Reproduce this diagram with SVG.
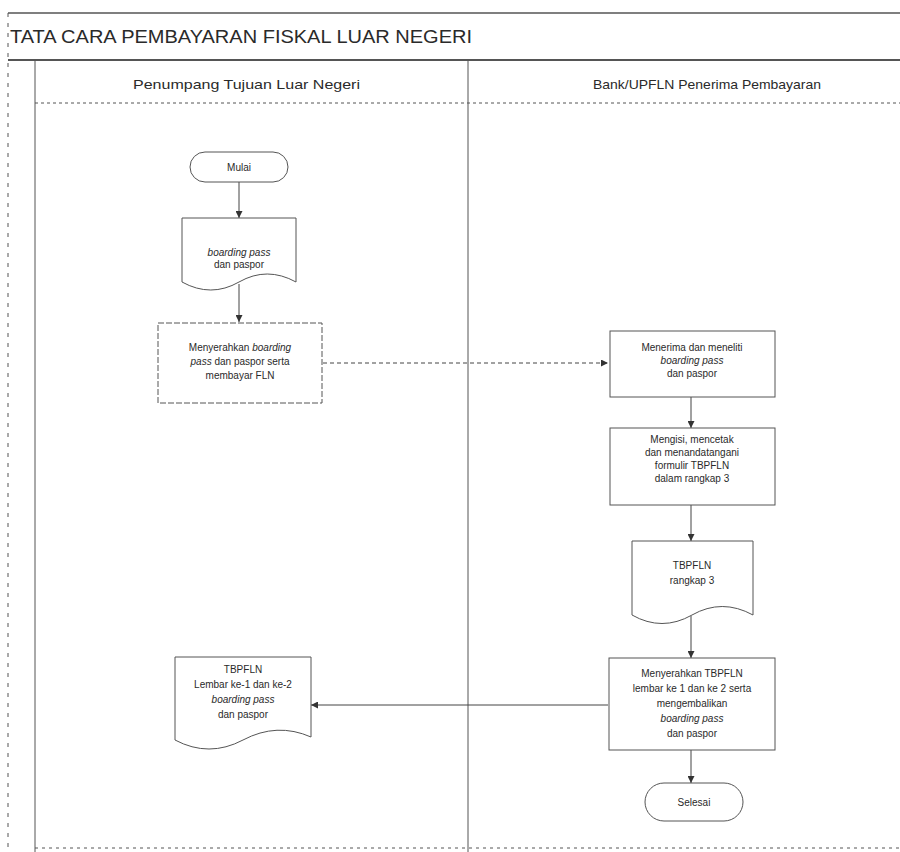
<svg xmlns="http://www.w3.org/2000/svg" width="900" height="852" viewBox="0 0 900 852">
<style>
text{font-family:"Liberation Sans",Arial,sans-serif;fill:#2a2a2a}
.t{font-size:10px;text-anchor:middle}
.i{font-style:italic}
.shape{fill:#fff;stroke:#555;stroke-width:1}
.conn{fill:none;stroke:#444;stroke-width:1}
.frame{fill:none;stroke:#555}
</style>
<defs>
<marker id="ah" viewBox="0 0 10 10" refX="10" refY="5" markerWidth="7" markerHeight="7" orient="auto" markerUnits="userSpaceOnUse">
<path d="M0,0 L10,5 L0,10 Z" fill="#333"/>
</marker>
</defs>
<rect width="900" height="852" fill="#fff"/>
<g id="frame">
<line class="frame" x1="8" y1="13" x2="900" y2="13" stroke-width="1.5" stroke="#888"/>
<line class="frame" x1="8" y1="13" x2="8" y2="852" stroke-dasharray="4 6" stroke="#aaa"/>
<line class="frame" x1="8" y1="60" x2="900" y2="60" stroke-width="2" stroke="#444"/>
<line class="frame" x1="35" y1="60" x2="35" y2="852" stroke="#666"/>
<line class="frame" x1="468" y1="60" x2="468" y2="852" stroke="#555"/>
<line class="frame" x1="35" y1="103" x2="900" y2="103" stroke-dasharray="3 3" stroke="#777"/>
<line class="frame" x1="35" y1="848" x2="900" y2="848" stroke-dasharray="3 4" stroke="#ccc"/>
<text x="10" y="43" font-size="18" textLength="462" lengthAdjust="spacingAndGlyphs">TATA CARA PEMBAYARAN FISKAL LUAR NEGERI</text>
<text x="133" y="89" font-size="13" textLength="227" lengthAdjust="spacingAndGlyphs">Penumpang Tujuan Luar Negeri</text>
<text x="593" y="89" font-size="13" textLength="228" lengthAdjust="spacingAndGlyphs">Bank/UPFLN Penerima Pembayaran</text>
</g>
<g id="connectors">
<line class="conn" x1="239" y1="182" x2="239" y2="218" marker-end="url(#ah)"/>
<line class="conn" x1="239" y1="284" x2="239" y2="322" marker-end="url(#ah)"/>
<line class="conn" x1="323" y1="363" x2="608" y2="363" stroke-dasharray="4 3" stroke="#777" marker-end="url(#ah)"/>
<line class="conn" x1="691" y1="397" x2="691" y2="428" marker-end="url(#ah)"/>
<line class="conn" x1="691" y1="505" x2="691" y2="541" marker-end="url(#ah)"/>
<line class="conn" x1="691" y1="616" x2="691" y2="658" marker-end="url(#ah)"/>
<line class="conn" x1="608" y1="705" x2="311" y2="705" marker-end="url(#ah)"/>
<line class="conn" x1="691" y1="750" x2="691" y2="783" marker-end="url(#ah)"/>
</g>
<g id="mulai">
<rect class="shape" x="190" y="152" width="98" height="30" rx="15" ry="15"/>
<text class="t" x="239" y="171">Mulai</text>
</g>
<g id="doc1">
<path class="shape" d="M182,218 H296 V282 Q267,266 239,282 Q211,298 182,282 Z"/>
<text class="t i" x="239" y="256">boarding pass</text>
<text class="t" x="239" y="268">dan paspor</text>
</g>
<g id="p1">
<rect class="shape" x="158" y="323" width="164" height="80" stroke-dasharray="6 2"/>
<text class="t" x="240" y="351">Menyerahkan <tspan class="i">boarding</tspan></text>
<text class="t" x="240" y="365"><tspan class="i">pass</tspan> dan paspor serta</text>
<text class="t" x="240" y="379">membayar FLN</text>
</g>
<g id="p2">
<rect class="shape" x="610" y="331" width="165" height="66"/>
<text class="t" x="692" y="351">Menerima dan meneliti</text>
<text class="t i" x="692" y="364">boarding pass</text>
<text class="t" x="692" y="377">dan paspor</text>
</g>
<g id="p3">
<rect class="shape" x="610" y="428" width="165" height="77"/>
<text class="t" x="692" y="443">Mengisi, mencetak</text>
<text class="t" x="692" y="456">dan menandatangani</text>
<text class="t" x="692" y="469">formulir TBPFLN</text>
<text class="t" x="692" y="482">dalam rangkap 3</text>
</g>
<g id="doc2">
<path class="shape" d="M632,541 H753 V615 Q722,598 692,615 Q662,632 632,615 Z"/>
<text class="t" x="692" y="569">TBPFLN</text>
<text class="t" x="692" y="584">rangkap 3</text>
</g>
<g id="p4">
<rect class="shape" x="609" y="658" width="166" height="92"/>
<text class="t" x="692" y="677">Menyerahkan  TBPFLN</text>
<text class="t" x="692" y="692">lembar ke 1 dan ke 2 serta</text>
<text class="t" x="692" y="707">mengembalikan</text>
<text class="t i" x="692" y="722">boarding pass</text>
<text class="t" x="692" y="737">dan paspor</text>
</g>
<g id="doc3">
<path class="shape" d="M175,657 H311 V737 Q277,722 243,740 Q209,758 175,740 Z"/>
<text class="t" x="243" y="673">TBPFLN</text>
<text class="t" x="243" y="688">Lembar ke-1 dan ke-2</text>
<text class="t i" x="243" y="703">boarding pass</text>
<text class="t" x="243" y="718">dan paspor</text>
</g>
<g id="selesai">
<rect class="shape" x="645" y="783" width="98" height="38" rx="19" ry="19"/>
<text class="t" x="694" y="806">Selesai</text>
</g>
</svg>
